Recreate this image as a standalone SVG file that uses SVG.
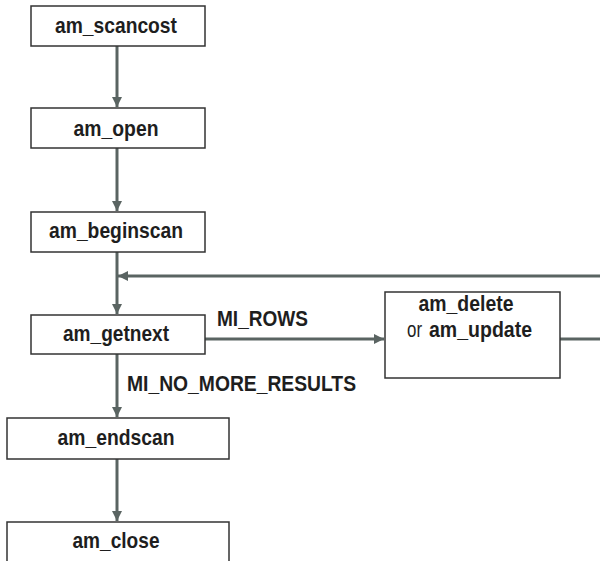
<svg xmlns="http://www.w3.org/2000/svg" width="600" height="561" viewBox="0 0 600 561">
<style>
.box{fill:#fff;stroke:#333;stroke-width:1.5}
.t{font-family:"Liberation Sans",Arial,sans-serif;font-size:22px;font-weight:bold;fill:#1e1e1e;text-anchor:middle}
.l{font-family:"Liberation Sans",Arial,sans-serif;font-size:22px;font-weight:bold;fill:#1e1e1e}
.n{font-weight:normal}
.c{fill:none;stroke:#5a6462;stroke-width:3}
</style>
<defs>
<marker id="ah" markerWidth="10" markerHeight="10" viewBox="0 0 10 10" refX="10" refY="5" orient="auto" markerUnits="userSpaceOnUse">
<path d="M0,0 L10,5 L0,10 Z" fill="#5a6462"/>
</marker>
</defs>
<g id="connectors">
<line class="c" x1="117" y1="46" x2="117" y2="107" marker-end="url(#ah)"/>
<line class="c" x1="117" y1="148" x2="117" y2="211" marker-end="url(#ah)"/>
<line class="c" x1="117" y1="252" x2="117" y2="314" marker-end="url(#ah)"/>
<line class="c" x1="602" y1="276" x2="118" y2="276" marker-end="url(#ah)"/>
<line class="c" x1="205" y1="339" x2="384" y2="339" marker-end="url(#ah)"/>
<line class="c" x1="560" y1="339" x2="602" y2="339"/>
<line class="c" x1="117" y1="354" x2="117" y2="417" marker-end="url(#ah)"/>
<line class="c" x1="117" y1="459" x2="117" y2="521" marker-end="url(#ah)"/>
</g>
<g id="n_scancost"><rect class="box" x="31" y="6" width="174" height="40"/><text class="t" x="116" y="33" textLength="122" lengthAdjust="spacingAndGlyphs">am_scancost</text></g>
<g id="n_open"><rect class="box" x="31" y="108" width="174" height="40"/><text class="t" x="116" y="136" textLength="85" lengthAdjust="spacingAndGlyphs">am_open</text></g>
<g id="n_beginscan"><rect class="box" x="31" y="212" width="174" height="40"/><text class="t" x="116" y="238" textLength="134" lengthAdjust="spacingAndGlyphs">am_beginscan</text></g>
<g id="n_getnext"><rect class="box" x="31" y="315" width="174" height="39"/><text class="t" x="116" y="341" textLength="106" lengthAdjust="spacingAndGlyphs">am_getnext</text></g>
<g id="n_delete"><rect class="box" x="385" y="292" width="175" height="86"/><text class="t" x="466" y="311" textLength="95" lengthAdjust="spacingAndGlyphs">am_delete</text><text class="l n" x="407" y="337" textLength="15" lengthAdjust="spacingAndGlyphs">or</text><text class="l" x="429" y="337" textLength="103" lengthAdjust="spacingAndGlyphs">am_update</text></g>
<g id="n_endscan"><rect class="box" x="7" y="418" width="222" height="41"/><text class="t" x="116" y="445" textLength="117" lengthAdjust="spacingAndGlyphs">am_endscan</text></g>
<g id="n_close"><rect class="box" x="7" y="522" width="222" height="45"/><text class="t" x="116" y="548" textLength="87" lengthAdjust="spacingAndGlyphs">am_close</text></g>
<g id="labels">
<text class="l" x="217" y="326" textLength="91" lengthAdjust="spacingAndGlyphs">MI_ROWS</text>
<text class="l" x="127" y="391" textLength="229" lengthAdjust="spacingAndGlyphs">MI_NO_MORE_RESULTS</text>
</g>
</svg>
